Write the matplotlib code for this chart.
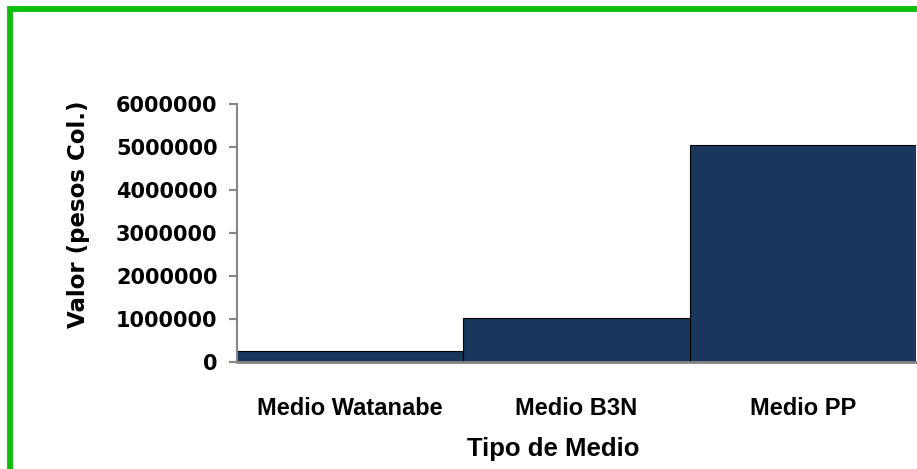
import matplotlib
matplotlib.use("Agg")
import matplotlib.pyplot as plt
from matplotlib.patches import Rectangle

# costo por tipo de medio de cultivo
medios = ["Medio Watanabe", "Medio B3N", "Medio PP"]
valores = [255000, 1025000, 5050000]
yticks = [0, 1000000, 2000000, 3000000, 4000000, 5000000, 6000000]

bar_color = "#1a365c"
axis_gray = "#868686"
sans = ["Liberation Sans", "DejaVu Sans"]

fig = plt.figure(figsize=(9.17, 4.69), dpi=100)
ax = fig.add_axes([237 / 917, 1 - 362 / 469, (916 - 237) / 917, (362 - 104) / 469])

ax.bar(range(len(medios)), valores, width=1.0, color=bar_color,
       edgecolor="black", linewidth=0.8, zorder=2)

ax.set_xlim(-0.5, len(medios) - 0.5)
ax.set_ylim(0, 6000000)
ax.set_yticks(yticks)
ax.set_yticklabels([str(v) for v in yticks], fontsize=15, fontweight="bold",
                   family="DejaVu Sans")
ax.set_xticks(range(len(medios)))
ax.set_xticklabels(medios, fontsize=17, fontweight="bold", family=sans)

ax.tick_params(axis="y", length=6, width=1.5, color=axis_gray, pad=8)
ax.tick_params(axis="x", length=0, pad=25)

for side in ["top", "right"]:
    ax.spines[side].set_visible(False)
ax.spines["left"].set_color(axis_gray)
ax.spines["left"].set_linewidth(1.5)
ax.spines["bottom"].set_color(axis_gray)
ax.spines["bottom"].set_linewidth(2)
ax.spines["bottom"].set_zorder(3)

fig.text(78 / 917, 1 - 214 / 469, "Valor (pesos Col.)", rotation=90,
         ha="center", va="center", fontsize=16.5, fontweight="bold",
         family="DejaVu Sans")
fig.text(553 / 917, 1 - 449 / 469, "Tipo de Medio", ha="center", va="center",
         fontsize=18.5, fontweight="bold", family=sans)

# marco verde (abierto por la derecha y por abajo)
fig.patches.append(Rectangle((9.5 / 917, -0.1), 1.2, 1 - 9 / 469 + 0.1,
                             transform=fig.transFigure, fill=False,
                             edgecolor="#0cbf0c", linewidth=4.2))

fig.savefig("out.png", dpi=100)
